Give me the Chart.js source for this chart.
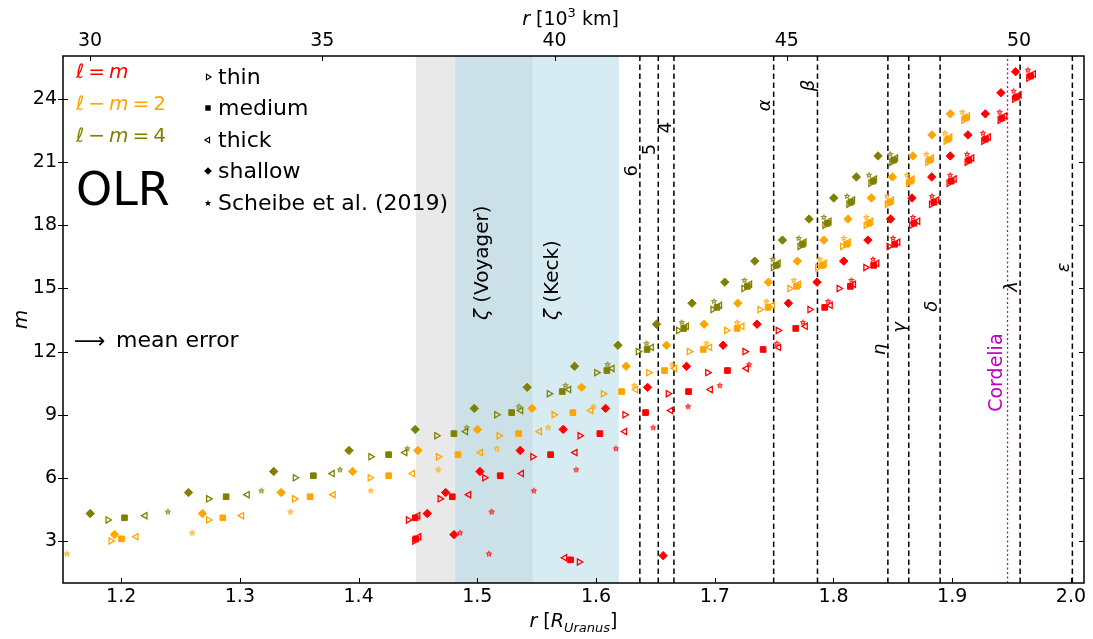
<!DOCTYPE html>
<html>
<head>
<meta charset="utf-8">
<title>OLR resonances</title>
<script src="https://cdn.jsdelivr.net/npm/chart.js@4.4.1/dist/chart.umd.min.js"></script>
<style>
  html, body { margin: 0; padding: 0; background: #fff; }
  #wrap { width: 1093px; height: 639px; }
</style>
</head>
<body>
<div id="wrap"><canvas id="olr" width="1093" height="639"></canvas></div>
<script>
// axis ticks
var xTicks = [1.2, 1.3, 1.4, 1.5, 1.6, 1.7, 1.8, 1.9, 2.0];
var kmTicks = [30, 35, 40, 45, 50];
var mTicks = [3, 6, 9, 12, 15, 18, 21, 24];

// l = m (red), m = 2..25
var redThinX = [1.5858, 1.4471, 1.4418, 1.4685, 1.5061, 1.5466, 1.5864, 1.6242, 1.6607, 1.6939, 1.7253, 1.7533, 1.7800, 1.8046, 1.8271, 1.8467, 1.8656, 1.8824, 1.8972, 1.9124, 1.9264, 1.9402, 1.9523, 1.9643];
var redThinY = [2, 3, 4, 5, 6, 7, 8, 9, 10, 11, 12, 13, 14, 15, 16, 17, 18, 19, 20, 21, 22, 23, 24, 25];
var redMediumX = [1.5785, 1.4483, 1.4477, 1.4789, 1.5193, 1.5617, 1.6032, 1.6417, 1.6779, 1.7107, 1.7407, 1.7682, 1.7926, 1.8142, 1.8338, 1.8515, 1.8678, 1.8846, 1.8992, 1.9141, 1.9281, 1.9418, 1.9540, 1.9660];
var redMediumY = [2.1, 3.1, 4.1, 5.1, 6.1, 7.1, 8.1, 9.1, 10.1, 11.1, 12.1, 13.1, 14.1, 15.1, 16.1, 17.1, 18.1, 19.1, 20.1, 21.1, 22.1, 23.1, 24.1, 25.1];
var redThickX = [1.5737, 1.4508, 1.4500, 1.4929, 1.5373, 1.5824, 1.6242, 1.6630, 1.6964, 1.7267, 1.7539, 1.7764, 1.7974, 1.8170, 1.8366, 1.8543, 1.8711, 1.8871, 1.9018, 1.9166, 1.9306, 1.9444, 1.9565, 1.9685];
var redThickY = [2.2, 3.2, 4.2, 5.2, 6.2, 7.2, 8.2, 9.2, 10.2, 11.2, 12.2, 13.2, 14.2, 15.2, 16.2, 17.2, 18.2, 19.2, 20.2, 21.2, 22.2, 23.2, 24.2, 25.2];
var redShallowX = [1.6565, 1.4803, 1.4578, 1.4733, 1.5022, 1.5361, 1.5723, 1.6080, 1.6434, 1.6762, 1.7070, 1.7356, 1.7620, 1.7861, 1.8086, 1.8290, 1.8481, 1.8661, 1.8827, 1.8984, 1.9132, 1.9279, 1.9410, 1.9534];
var redShallowY = [2.3, 3.3, 4.3, 5.3, 6.3, 7.3, 8.3, 9.3, 10.3, 11.3, 12.3, 13.3, 14.3, 15.3, 16.3, 17.3, 18.3, 19.3, 20.3, 21.3, 22.3, 23.3, 24.3, 25.3];
var redScheibeX = [1.5098, 1.4854, 1.5120, 1.5476, 1.5833, 1.6167, 1.6481, 1.6775, 1.7042, 1.7289, 1.7522, 1.7743, 1.7954, 1.8151, 1.8333, 1.8501, 1.8669, 1.8829, 1.8982, 1.9124, 1.9259, 1.9399, 1.9517, 1.9637];
var redScheibeY = [2.4, 3.4, 4.4, 5.4, 6.4, 7.4, 8.4, 9.4, 10.4, 11.4, 12.4, 13.4, 14.4, 15.4, 16.4, 17.4, 18.4, 19.4, 20.4, 21.4, 22.4, 23.4, 24.4, 25.4];

// l - m = 2 (orange), m = 3..23 (Scheibe: 2..23)
var orangeThinX = [1.1913, 1.2735, 1.3459, 1.4096, 1.4671, 1.5182, 1.5645, 1.6060, 1.6442, 1.6784, 1.7098, 1.7379, 1.7631, 1.7865, 1.8075, 1.8274, 1.8452, 1.8631, 1.8793, 1.8947, 1.9096];
var orangeThinY = [3, 4, 5, 6, 7, 8, 9, 10, 11, 12, 13, 14, 15, 16, 17, 18, 19, 20, 21, 22, 23];
var orangeMediumX = [1.2003, 1.2856, 1.3591, 1.4253, 1.4837, 1.5348, 1.5805, 1.6215, 1.6577, 1.6902, 1.7188, 1.7449, 1.7688, 1.7907, 1.8109, 1.8299, 1.8473, 1.8647, 1.8810, 1.8964, 1.9113];
var orangeMediumY = [3.1, 4.1, 5.1, 6.1, 7.1, 8.1, 9.1, 10.1, 11.1, 12.1, 13.1, 14.1, 15.1, 16.1, 17.1, 18.1, 19.1, 20.1, 21.1, 22.1, 23.1];
var orangeThickX = [1.2126, 1.3016, 1.3787, 1.4455, 1.5028, 1.5524, 1.5956, 1.6335, 1.6663, 1.6958, 1.7230, 1.7486, 1.7707, 1.7923, 1.8126, 1.8316, 1.8490, 1.8664, 1.8827, 1.8981, 1.9130];
var orangeThickY = [3.2, 4.2, 5.2, 6.2, 7.2, 8.2, 9.2, 10.2, 11.2, 12.2, 13.2, 14.2, 15.2, 16.2, 17.2, 18.2, 19.2, 20.2, 21.2, 22.2, 23.2];
var orangeShallowX = [1.1944, 1.2684, 1.3347, 1.3950, 1.4500, 1.5001, 1.5460, 1.5878, 1.6253, 1.6593, 1.6910, 1.7194, 1.7452, 1.7696, 1.7918, 1.8122, 1.8319, 1.8496, 1.8669, 1.8829, 1.8984];
var orangeShallowY = [3.3, 4.3, 5.3, 6.3, 7.3, 8.3, 9.3, 10.3, 11.3, 12.3, 13.3, 14.3, 15.3, 16.3, 17.3, 18.3, 19.3, 20.3, 21.3, 22.3, 23.3];
var orangeScheibeX = [1.1543, 1.2598, 1.3425, 1.4102, 1.4671, 1.5165, 1.5597, 1.5979, 1.6322, 1.6641, 1.6930, 1.7188, 1.7435, 1.7665, 1.7884, 1.8086, 1.8277, 1.8450, 1.8619, 1.8782, 1.8939, 1.9085];
var orangeScheibeY = [2.4, 3.4, 4.4, 5.4, 6.4, 7.4, 8.4, 9.4, 10.4, 11.4, 12.4, 13.4, 14.4, 15.4, 16.4, 17.4, 18.4, 19.4, 20.4, 21.4, 22.4, 23.4];

// l - m = 4 (olive), m = 4..21
var oliveThinX = [1.1888, 1.2735, 1.3465, 1.4102, 1.4657, 1.5162, 1.5605, 1.6004, 1.6354, 1.6694, 1.6983, 1.7244, 1.7492, 1.7716, 1.7926, 1.8128, 1.8313, 1.8490];
var oliveThinY = [4, 5, 6, 7, 8, 9, 10, 11, 12, 13, 14, 15, 16, 17, 18, 19, 20, 21];
var oliveMediumX = [1.2028, 1.2884, 1.3619, 1.4253, 1.4803, 1.5289, 1.5715, 1.6091, 1.6430, 1.6739, 1.7019, 1.7275, 1.7518, 1.7738, 1.7949, 1.8147, 1.8333, 1.8507];
var oliveMediumY = [4.1, 5.1, 6.1, 7.1, 8.1, 9.1, 10.1, 11.1, 12.1, 13.1, 14.1, 15.1, 16.1, 17.1, 18.1, 19.1, 20.1, 21.1];
var oliveThickX = [1.2202, 1.3063, 1.3779, 1.4391, 1.4902, 1.5367, 1.5771, 1.6136, 1.6467, 1.6762, 1.7042, 1.7295, 1.7535, 1.7753, 1.7964, 1.8162, 1.8347, 1.8524];
var oliveThickY = [4.2, 5.2, 6.2, 7.2, 8.2, 9.2, 10.2, 11.2, 12.2, 13.2, 14.2, 15.2, 16.2, 17.2, 18.2, 19.2, 20.2, 21.2];
var oliveShallowX = [1.1739, 1.2567, 1.3285, 1.3919, 1.4477, 1.4974, 1.5420, 1.5819, 1.6184, 1.6509, 1.6808, 1.7084, 1.7337, 1.7570, 1.7794, 1.8002, 1.8193, 1.8375];
var oliveShallowY = [4.3, 5.3, 6.3, 7.3, 8.3, 9.3, 10.3, 11.3, 12.3, 13.3, 14.3, 15.3, 16.3, 17.3, 18.3, 19.3, 20.3, 21.3];
var oliveScheibeX = [1.2393, 1.3181, 1.3843, 1.4410, 1.4910, 1.5350, 1.5743, 1.6097, 1.6425, 1.6722, 1.6994, 1.7250, 1.7488, 1.7707, 1.7918, 1.8114, 1.8299, 1.8479];
var oliveScheibeY = [4.4, 5.4, 6.4, 7.4, 8.4, 9.4, 10.4, 11.4, 12.4, 13.4, 14.4, 15.4, 16.4, 17.4, 18.4, 19.4, 20.4, 21.4];

// rings (R_Uranus) and where their labels sit (in m)
var ringNames = ['6', '5', '4', 'α', 'β', 'η', 'γ', 'δ', 'λ', 'ε'];
var ringR = [1.6369, 1.6524, 1.6656, 1.7496, 1.7865, 1.8458, 1.8634, 1.8898, 1.9572, 2.0012];
var ringLabelM = [20.6, 21.6, 22.65, 23.7, 24.65, 12.1, 13.15, 14.15, 15.1, 16.0];
var cordeliaR = 1.9466;
var voyagerZone = [1.4483, 1.5466];
var keckZone = [1.4814, 1.6192];

var xMin = 1.151, xMax = 2.011, yMin = 1, yMax = 26.05;
var RU = 25.559; // Uranus radius, 10^3 km

var RED = '#ff0000', ORANGE = '#ffa500', OLIVE = '#808000', MAGENTA = '#bf00bf';

function font(size, italic) {
  return (italic ? 'italic ' : '') + size + "px 'DejaVu Sans', sans-serif";
}

function pts(xs, ys) {
  return xs.map(function(x, i) { return { x: x, y: ys[i] }; });
}

function starPath(g, cx, cy, ro, ri) {
  g.beginPath();
  for (var k = 0; k < 10; k++) {
    var r = k % 2 ? ri : ro;
    var a = -Math.PI / 2 + k * Math.PI / 5;
    g.lineTo(cx + r * Math.cos(a), cy + r * Math.sin(a));
  }
  g.closePath();
}

// small filled star with a pale centre, like the reference
function starImage(color) {
  var c = document.createElement('canvas');
  c.width = 10; c.height = 10;
  var g = c.getContext('2d');
  starPath(g, 5, 5.3, 3.6, 1.6);
  g.fillStyle = color;
  g.fill();
  g.beginPath();
  g.arc(5, 5.4, 0.9, 0, Math.PI * 2);
  g.fillStyle = 'rgba(255,255,255,0.85)';
  g.fill();
  return c;
}

function makeSet(xs, ys, color, kind) {
  var ds = {
    data: pts(xs, ys),
    pointBorderColor: color,
    pointBackgroundColor: color,
    pointBorderWidth: 1,
    pointRadius: 4,
    pointHoverRadius: 4,
    order: 0
  };
  if (kind === 'thin' || kind === 'thick') {
    ds.pointStyle = 'triangle';
    ds.pointRotation = kind === 'thin' ? 90 : -90;
    ds.pointBackgroundColor = 'rgba(0,0,0,0)';
    ds.pointBorderWidth = 1.3;
    ds.pointRadius = 3.6;
  } else if (kind === 'medium') {
    ds.pointStyle = 'rect';
  } else if (kind === 'shallow') {
    ds.pointStyle = 'rectRot';
    ds.pointRadius = 4.2;
  } else {
    ds.pointStyle = starImage(color);
  }
  return ds;
}

function ringLine(r, color, dash, width) {
  return {
    type: 'line',
    data: [{ x: r, y: yMin }, { x: r, y: yMax }],
    borderColor: color,
    borderWidth: width,
    borderDash: dash,
    pointRadius: 0,
    fill: false,
    order: 1
  };
}

var datasets = [
  makeSet(redThinX, redThinY, RED, 'thin'),
  makeSet(redMediumX, redMediumY, RED, 'medium'),
  makeSet(redThickX, redThickY, RED, 'thick'),
  makeSet(redShallowX, redShallowY, RED, 'shallow'),
  makeSet(redScheibeX, redScheibeY, RED, 'scheibe'),
  makeSet(orangeThinX, orangeThinY, ORANGE, 'thin'),
  makeSet(orangeMediumX, orangeMediumY, ORANGE, 'medium'),
  makeSet(orangeThickX, orangeThickY, ORANGE, 'thick'),
  makeSet(orangeShallowX, orangeShallowY, ORANGE, 'shallow'),
  makeSet(orangeScheibeX, orangeScheibeY, ORANGE, 'scheibe'),
  makeSet(oliveThinX, oliveThinY, OLIVE, 'thin'),
  makeSet(oliveMediumX, oliveMediumY, OLIVE, 'medium'),
  makeSet(oliveThickX, oliveThickY, OLIVE, 'thick'),
  makeSet(oliveShallowX, oliveShallowY, OLIVE, 'shallow'),
  makeSet(oliveScheibeX, oliveScheibeY, OLIVE, 'scheibe')
];
ringR.forEach(function(r) { datasets.push(ringLine(r, '#000', [5.5, 3.5], 1.5)); });
datasets.push(ringLine(cordeliaR, MAGENTA, [2, 2.5], 1.3));

// draws a run of text pieces: [text, font, dy, gapBefore]
function richText(ctx, parts, x, y, align) {
  var total = 0;
  parts.forEach(function(p) { ctx.font = p[1]; total += ctx.measureText(p[0]).width + (p[3] || 0); });
  var cx = align === 'center' ? x - total / 2 : x;
  ctx.textAlign = 'left';
  parts.forEach(function(p) {
    ctx.font = p[1];
    cx += (p[3] || 0);
    ctx.fillText(p[0], cx, y + (p[2] || 0));
    cx += ctx.measureText(p[0]).width;
  });
}

function legendMark(ctx, kind, x, y) {
  ctx.save();
  ctx.strokeStyle = '#000';
  ctx.fillStyle = '#000';
  ctx.lineWidth = 1.1;
  ctx.beginPath();
  if (kind === 'thin' || kind === 'thick') {
    var r = 3.1, s = kind === 'thin' ? 1 : -1;
    ctx.moveTo(x + s * r, y);
    ctx.lineTo(x - s * r * 0.5, y - r * 0.866);
    ctx.lineTo(x - s * r * 0.5, y + r * 0.866);
    ctx.closePath();
    ctx.stroke();
  } else if (kind === 'medium') {
    ctx.fillRect(x - 2.7, y - 2.7, 5.4, 5.4);
  } else if (kind === 'shallow') {
    ctx.moveTo(x, y - 3.8); ctx.lineTo(x + 3.8, y); ctx.lineTo(x, y + 3.8); ctx.lineTo(x - 3.8, y);
    ctx.closePath();
    ctx.fill();
  } else {
    starPath(ctx, x, y + 0.3, 3.3, 1.5);
    ctx.fill();
  }
  ctx.restore();
}

function rotatedText(ctx, parts, x, y, align) {
  ctx.save();
  ctx.translate(x, y);
  ctx.rotate(-Math.PI / 2);
  ctx.textBaseline = 'middle';
  richText(ctx, parts, 0, 0, align);
  ctx.restore();
}

var decor = {
  id: 'decor',
  beforeDatasetsDraw: function(chart) {
    var ctx = chart.ctx, a = chart.chartArea, sx = chart.scales.x;
    ctx.save();
    var g0 = sx.getPixelForValue(voyagerZone[0]), g1 = sx.getPixelForValue(voyagerZone[1]);
    ctx.fillStyle = 'rgba(211,211,211,0.5)';
    ctx.fillRect(g0, a.top, g1 - g0, a.bottom - a.top);
    var k0 = sx.getPixelForValue(keckZone[0]), k1 = sx.getPixelForValue(keckZone[1]);
    ctx.fillStyle = 'rgba(173,216,230,0.5)';
    ctx.fillRect(k0, a.top, k1 - k0, a.bottom - a.top);
    ctx.restore();
  },
  afterDatasetsDraw: function(chart) {
    var ctx = chart.ctx, sx = chart.scales.x, sy = chart.scales.y;
    ctx.save();
    ctx.fillStyle = '#000';

    // ring labels
    ringNames.forEach(function(n, i) {
      var greek = !/[0-9]/.test(n);
      rotatedText(ctx, [[n, font(18, greek)]], sx.getPixelForValue(ringR[i]) - 8, sy.getPixelForValue(ringLabelM[i]), 'center');
    });
    ctx.fillStyle = MAGENTA;
    rotatedText(ctx, [['Cordelia', font(19)]], sx.getPixelForValue(cordeliaR) - 10, sy.getPixelForValue(11.0), 'center');

    // zeta ring zones
    ctx.fillStyle = '#000';
    rotatedText(ctx, [['ζ', font(20, true)], [' (Voyager)', font(20)]], sx.getPixelForValue(1.5047), sy.getPixelForValue(13.5), 'left');
    rotatedText(ctx, [['ζ', font(20, true)], [' (Keck)', font(20)]], sx.getPixelForValue(1.5636), sy.getPixelForValue(13.5), 'left');

    // colour key
    ctx.textBaseline = 'alphabetic';
    ctx.fillStyle = RED;
    richText(ctx, [['ℓ', font(20, true)], ['=', font(20), 0, 4], ['m', font(20, true), 0, 4]], 76, 78, 'left');
    ctx.fillStyle = ORANGE;
    richText(ctx, [['ℓ', font(20, true)], ['−', font(20), 0, 4], ['m', font(20, true), 0, 4], ['=', font(20), 0, 4], ['2', font(20), 0, 4]], 76, 110, 'left');
    ctx.fillStyle = OLIVE;
    richText(ctx, [['ℓ', font(20, true)], ['−', font(20), 0, 4], ['m', font(20, true), 0, 4], ['=', font(20), 0, 4], ['4', font(20), 0, 4]], 76, 142, 'left');

    ctx.fillStyle = '#000';
    ctx.font = font(46);
    ctx.textAlign = 'left';
    ctx.fillText('OLR', 76, 205);

    // model key
    var kinds = ['thin', 'medium', 'thick', 'shallow', 'scheibe'];
    var names = ['thin', 'medium', 'thick', 'shallow', 'Scheibe et al. (2019)'];
    var rows = [77, 108, 140, 171, 203];
    ctx.font = font(22);
    ctx.textBaseline = 'middle';
    kinds.forEach(function(k, i) {
      legendMark(ctx, k, 208, rows[i]);
      ctx.fillText(names[i], 218, rows[i] + 1);
    });

    ctx.textBaseline = 'alphabetic';
    ctx.font = font(22);
    ctx.fillText('⟶', 74, 348);
    ctx.fillText('mean error', 116, 347);
    ctx.restore();
  },
  afterDraw: function(chart) {
    var ctx = chart.ctx, a = chart.chartArea;
    var sx = chart.scales.x, st = chart.scales.x2, sy = chart.scales.y;
    ctx.save();
    ctx.strokeStyle = '#000';
    ctx.lineWidth = 1;
    ctx.beginPath();
    xTicks.forEach(function(v) {
      var p = Math.round(sx.getPixelForValue(v)) + 0.5;
      ctx.moveTo(p, a.bottom); ctx.lineTo(p, a.bottom - 5);
    });
    kmTicks.forEach(function(v) {
      var p = Math.round(st.getPixelForValue(v)) + 0.5;
      ctx.moveTo(p, a.top); ctx.lineTo(p, a.top + 5);
    });
    mTicks.forEach(function(v) {
      var p = Math.round(sy.getPixelForValue(v)) + 0.5;
      ctx.moveTo(a.left - 5, p); ctx.lineTo(a.left + 5, p);
      ctx.moveTo(a.right, p); ctx.lineTo(a.right - 5, p);
    });
    ctx.stroke();
    ctx.lineWidth = 1.5;
    ctx.strokeRect(a.left, a.top, a.right - a.left, a.bottom - a.top);

    // axis titles
    var cx = (a.left + a.right) / 2;
    ctx.fillStyle = '#000';
    ctx.textBaseline = 'alphabetic';
    richText(ctx, [['r', font(19, true)], [' [', font(19)], ['R', font(19, true)], ['Uranus', font(13, true), 5], [']', font(19)]], cx, 627, 'center');
    richText(ctx, [['r', font(19, true)], [' [10', font(19)], ['3', font(13), -8], [' km]', font(19)]], cx - 3, 25, 'center');
    ctx.translate(22, (a.top + a.bottom) / 2);
    ctx.rotate(-Math.PI / 2);
    ctx.textBaseline = 'middle';
    richText(ctx, [['m', font(20, true)]], 0, 0, 'center');
    ctx.restore();
  }
};

var tickFont = { family: "'DejaVu Sans', sans-serif", size: 19 };

function fixedTicks(list) {
  return function(scale) { scale.ticks = list.map(function(v) { return { value: v }; }); };
}

new Chart(document.getElementById('olr'), {
  type: 'scatter',
  data: { datasets: datasets },
  options: {
    responsive: false,
    animation: false,
    devicePixelRatio: 1,
    events: [],
    layout: { padding: { left: 0, right: 9, top: 0, bottom: 0 } },
    plugins: { legend: { display: false }, tooltip: { enabled: false } },
    scales: {
      x: {
        type: 'linear', position: 'bottom', min: xMin, max: xMax, bounds: 'data',
        grid: { display: false, drawTicks: false }, border: { display: false },
        afterBuildTicks: fixedTicks(xTicks),
        afterFit: function(s) { s.height = 56; },
        ticks: { font: tickFont, color: '#000', padding: 3, maxRotation: 0, autoSkip: false,
                 callback: function(v) { return Number(v).toFixed(1); } }
      },
      x2: {
        type: 'linear', position: 'top', min: xMin * RU, max: xMax * RU, bounds: 'data',
        grid: { display: false, drawTicks: false }, border: { display: false },
        afterBuildTicks: fixedTicks(kmTicks),
        afterFit: function(s) { s.height = 56; },
        ticks: { font: tickFont, color: '#000', padding: 4, maxRotation: 0, autoSkip: false,
                 callback: function(v) { return String(v); } }
      },
      y: {
        type: 'linear', position: 'left', min: yMin, max: yMax, bounds: 'data',
        grid: { display: false, drawTicks: false }, border: { display: false },
        afterBuildTicks: fixedTicks(mTicks),
        afterFit: function(s) { s.width = 63; },
        ticks: { font: tickFont, color: '#000', padding: 6, autoSkip: false,
                 callback: function(v) { return String(v); } }
      }
    }
  },
  plugins: [decor]
});
</script>
</body>
</html>
